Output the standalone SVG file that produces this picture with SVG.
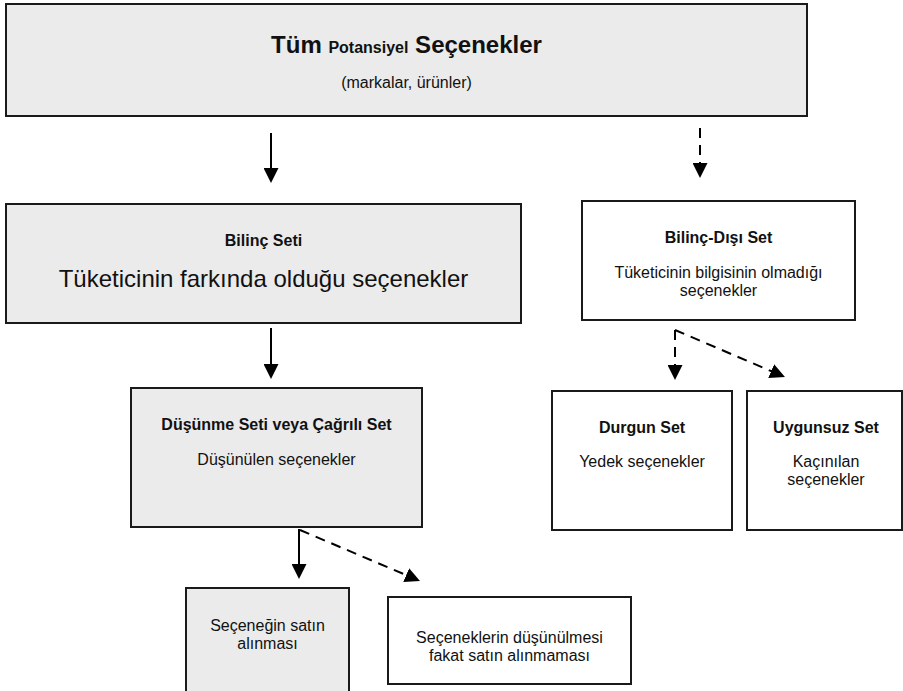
<svg xmlns="http://www.w3.org/2000/svg" width="903" height="691" viewBox="0 0 903 691">
  <style>
    .box { stroke: #1a1a1a; stroke-width: 2; }
    .grey { fill: #ebebeb; }
    .white { fill: #ffffff; }
    text { font-family: "Liberation Sans", Arial, sans-serif; fill: #111; text-anchor: middle; }
    .h { font-weight: bold; font-size: 16px; }
    .t { font-size: 16px; }
    .big { font-size: 24px; }
    .solid { stroke: #000; stroke-width: 2; fill: none; marker-end: url(#head); }
    .dash { stroke: #000; stroke-width: 2; fill: none; stroke-dasharray: 10 7; marker-end: url(#head); }
  </style>
  <defs>
    <!-- filled triangular arrowhead, tip 14px beyond the line end -->
    <marker id="head" viewBox="0 0 15 15" refX="1" refY="7.5" markerWidth="15" markerHeight="15" markerUnits="userSpaceOnUse" orient="auto">
      <path d="M0,0 L15,7.5 L0,15 Z" fill="#000"/>
    </marker>
  </defs>
  <rect width="903" height="691" fill="#fff"/>

  <g id="all-options">
    <rect class="box grey" x="6" y="4" width="801" height="112"/>
    <text x="406.5" y="53" style="font-weight:bold;font-size:24px">Tüm <tspan style="font-size:16px">Potansiyel</tspan> Seçenekler</text>
    <text class="t" x="406.5" y="88">(markalar, ürünler)</text>
  </g>

  <g id="awareness-set">
    <rect class="box grey" x="6" y="204" width="515" height="119"/>
    <text class="h" x="263.5" y="246">Bilinç Seti</text>
    <text class="big" x="263.5" y="287">Tüketicinin farkında olduğu seçenekler</text>
  </g>

  <g id="unawareness-set">
    <rect class="box white" x="582" y="201" width="273" height="119"/>
    <text class="h" x="718.5" y="243">Bilinç-Dışı Set</text>
    <text class="t" x="718.5" y="278">Tüketicinin bilgisinin olmadığı</text>
    <text class="t" x="718.5" y="296">seçenekler</text>
  </g>

  <g id="consideration-set">
    <rect class="box grey" x="131" y="388" width="291" height="139"/>
    <text class="h" x="276.5" y="430">Düşünme Seti veya Çağrılı Set</text>
    <text class="t" x="276.5" y="465">Düşünülen seçenekler</text>
  </g>

  <g id="inert-set">
    <rect class="box white" x="552" y="391" width="180" height="139"/>
    <text class="h" x="642" y="433">Durgun Set</text>
    <text class="t" x="642" y="467">Yedek seçenekler</text>
  </g>

  <g id="inept-set">
    <rect class="box white" x="747" y="391" width="155" height="139"/>
    <text class="h" x="826" y="433">Uygunsuz Set</text>
    <text class="t" x="826" y="467">Kaçınılan</text>
    <text class="t" x="826" y="485">seçenekler</text>
  </g>

  <g id="purchase">
    <rect class="box grey" x="186" y="588" width="163" height="110"/>
    <text class="t" x="267.5" y="631">Seçeneğin satın</text>
    <text class="t" x="267.5" y="649">alınması</text>
  </g>

  <g id="no-purchase">
    <rect class="box white" x="388" y="597" width="243" height="87"/>
    <text class="t" x="509.5" y="643">Seçeneklerin düşünülmesi</text>
    <text class="t" x="509.5" y="661">fakat satın alınmaması</text>
  </g>

  <g id="connectors">
    <line class="solid" x1="271" y1="133" x2="271" y2="169"/>
    <line class="dash" x1="700" y1="128" x2="700" y2="164"/>
    <line class="solid" x1="271" y1="328" x2="271" y2="365"/>
    <line class="dash" x1="675" y1="330" x2="675" y2="366"/>
    <line class="dash" x1="675" y1="330" x2="772.1" y2="371.5"/>
    <line class="solid" x1="299" y1="529" x2="299" y2="565"/>
    <line class="dash" x1="300" y1="530" x2="407.1" y2="575.5"/>
  </g>
</svg>
